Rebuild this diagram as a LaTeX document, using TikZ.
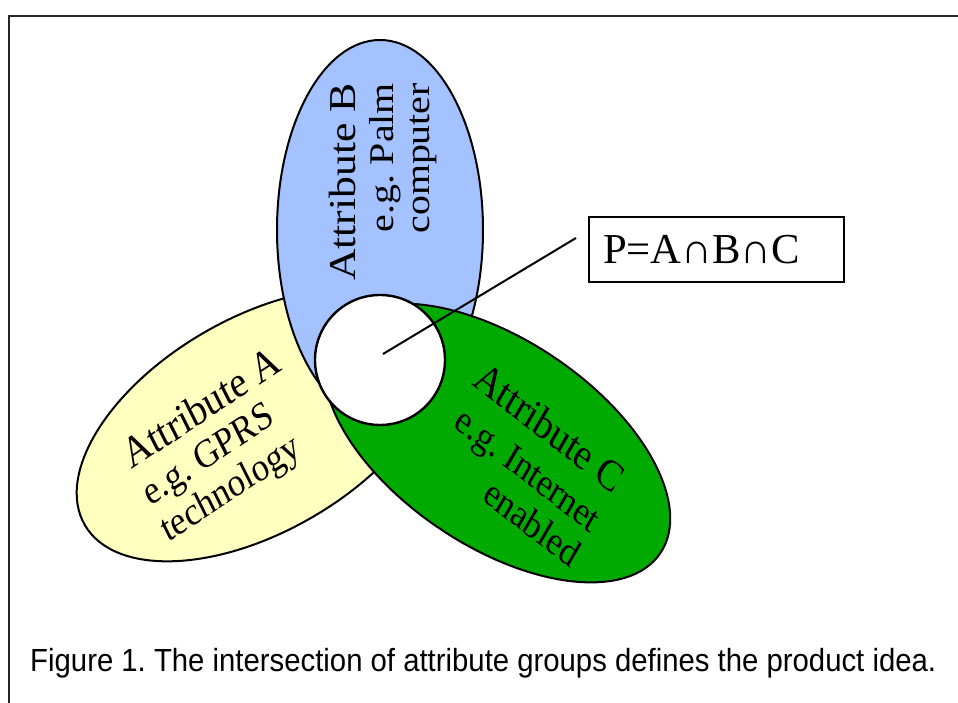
\documentclass[tikz,border=0pt]{standalone}
\usepackage{fontspec}
\setmainfont{Liberation Serif}
\newfontfamily\capfont{Liberation Sans}
\frenchspacing
\definecolor{attrA}{RGB}{255,255,192}
\definecolor{attrB}{RGB}{164,194,255}
\definecolor{attrC}{RGB}{0,170,0}
\tikzset{
  blob/.style={draw=black, line width=1.5pt},
  attr/.style={inner sep=0pt, text=black, font=\subfont, transform shape, yscale=1.15},
}
\newcommand{\headfont}{\fontsize{28.5}{30}\selectfont}
\newcommand{\subfont}{\fontsize{26}{27.5}\selectfont}
\begin{document}
\begin{tikzpicture}[x=0.75pt,y=0.75pt]
\useasboundingbox (0,0) rectangle (958,703);
% frame
\draw[line width=1.5pt, black!85] (9,0) |- (958,687);
% attribute groups
\draw[blob, fill=attrA, rotate around={30:(258,278)}] (258,278) ellipse [x radius=200, y radius=107];
\draw[blob, fill=attrB] (380,473) ellipse [x radius=103, y radius=190];
\draw[blob, fill=attrC, rotate around={-34:(497,260)}] (497,260) ellipse [x radius=197, y radius=103];
\draw[line width=1.8pt, fill=white] (380,343) circle [radius=65];
\coordinate (pc) at (383,349);
% labels
\node[attr, rotate=30, align=left] (txtA) at (221,256)
  {\headfont Attribute A\\[0pt] e.g. GPRS\\ technology};
\node[attr, rotate=90, align=right] (txtB) at (383,521)
  {\headfont Attribute B\\[1pt] e.g. Palm\\ computer};
\node[attr, rotate=-34, align=right] (txtC) at (528,239)
  {\headfont Attribute C\\[3pt] e.g. Internet\\ enabled};
% product idea
\node[draw, line width=1.5pt, anchor=west, text width=170pt, align=left,
  minimum height=48.75pt, inner xsep=10.5pt, inner ysep=0pt,
  font=\fontsize{32}{34}\selectfont] (pbox) at (588,453.5) {P=A∩B∩C};
\coordinate (ptip) at (576,465);
\draw[line width=1.5pt] (pc) -- (ptip);
\node[anchor=base west, inner sep=0pt, transform shape, xscale=0.916]
  (cap) at (30,31) {\capfont\fontsize{24}{26}\selectfont Figure 1. The intersection of attribute groups defines the product idea.};
\end{tikzpicture}
\end{document}
